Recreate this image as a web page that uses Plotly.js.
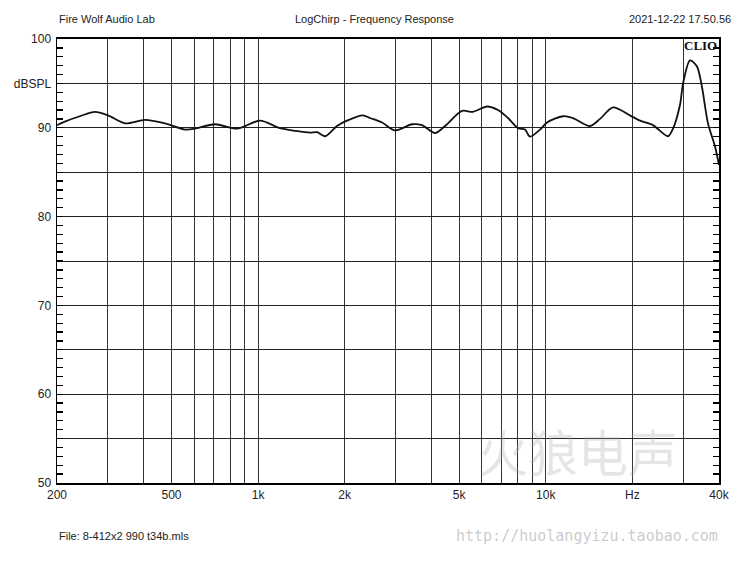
<!DOCTYPE html>
<html>
<head>
<meta charset="utf-8">
<script src="https://cdn.plot.ly/plotly-3.0.1.min.js"></script>
<style>html,body{margin:0;padding:0;background:#fff;}#chart{width:750px;height:562px;}</style>
</head>
<body>
<div id="chart"></div>
<script>
// Frequency response data (Hz, dBSPL)
var freq = [200, 213, 240, 271, 301, 345, 405, 475, 557, 603, 708, 845, 1016, 1192, 1350, 1515, 1602, 1709, 1880, 2037, 2315, 2449, 2697, 2991, 3427, 3713, 4120, 4464, 5114, 5584, 6246, 6822, 7390, 8008, 8468, 8814, 9548, 10098, 11480, 12432, 14246, 15434, 17124, 19619, 21260, 23580, 26600, 27680, 29280, 30000, 31720, 33540, 34900, 36620, 38740, 40000];
var spl  = [90.3, 90.7, 91.3, 91.8, 91.4, 90.5, 90.9, 90.5, 89.8, 89.9, 90.4, 89.9, 90.8, 89.95, 89.65, 89.45, 89.5, 89.05, 90.2, 90.8, 91.4, 91.1, 90.6, 89.7, 90.4, 90.3, 89.4, 90.2, 91.9, 91.8, 92.4, 92.0, 91.1, 89.95, 89.8, 89.0, 89.8, 90.6, 91.3, 91.1, 90.2, 91.0, 92.3, 91.4, 90.8, 90.3, 89.05, 89.9, 92.6, 95.0, 97.6, 96.9, 94.6, 90.5, 87.9, 85.8];

var xGrid = [200, 300, 400, 500, 600, 700, 800, 900, 1000, 2000, 3000, 4000, 5000, 6000, 7000, 8000, 9000, 10000, 20000, 30000, 40000];
var xLabels = ["200", "", "", "500", "", "", "", "", "1k", "2k", "", "", "5k", "", "", "", "", "10k", "Hz", "", "40k"];
var yGrid = [50, 55, 60, 65, 70, 75, 80, 85, 90, 95, 100];
var yLabels = ["50", "", "60", "", "70", "", "80", "", "90", "dBSPL", "100"];
var yMinor = [];
for (var v = 51; v < 100; v++) { if (v % 5 !== 0) yMinor.push(v); }

var trace = {
  x: freq, y: spl, type: 'scatter', mode: 'lines',
  line: {color: '#111111', width: 1.8, shape: 'spline', smoothing: 0.8},
  hoverinfo: 'skip'
};

var baseFont = {family: 'Liberation Sans, Arial, sans-serif', size: 11, color: '#222'};

var layout = {
  width: 750, height: 562,
  margin: {l: 57, r: 31, t: 39, b: 79},
  paper_bgcolor: '#ffffff', plot_bgcolor: '#ffffff',
  showlegend: false,
  font: baseFont,
  xaxis: {
    type: 'log', range: [Math.log10(200), Math.log10(40000)],
    tickmode: 'array', tickvals: xGrid, ticktext: xLabels,
    showgrid: true, gridcolor: '#333333', gridwidth: 1,
    showline: true, linecolor: '#000', linewidth: 2, mirror: true,
    ticks: '', tickfont: {family: 'Liberation Sans, Arial, sans-serif', size: 12, color: '#222'},
    zeroline: false, fixedrange: true
  },
  yaxis: {
    range: [50, 100],
    tickmode: 'array', tickvals: yGrid, ticktext: yLabels,
    showgrid: true, gridcolor: '#222222', gridwidth: 1,
    showline: true, linecolor: '#000', linewidth: 1.5, mirror: 'allticks',
    ticks: 'inside', ticklen: 6, tickcolor: '#000', tickwidth: 1.3, ticklabelstandoff: 2,
    tickfont: {family: 'Liberation Sans, Arial, sans-serif', size: 12, color: '#222'},
    minor: {tickmode: 'array', tickvals: yMinor, ticks: 'inside', ticklen: 6, tickcolor: '#000', tickwidth: 1.3, showgrid: false},
    zeroline: false, fixedrange: true
  },
  annotations: [
    {text: 'Fire Wolf Audio Lab', xref: 'paper', yref: 'paper', x: 0, y: 1.045, xanchor: 'left', yanchor: 'middle', showarrow: false, font: baseFont},
    {text: 'LogChirp - Frequency Response', xref: 'paper', yref: 'paper', x: 0.480, y: 1.045, xanchor: 'center', yanchor: 'middle', showarrow: false, font: baseFont},
    {text: '2021-12-22 17.50.56', xref: 'paper', yref: 'paper', x: 1.021, y: 1.045, xanchor: 'right', yanchor: 'middle', showarrow: false, font: baseFont},
    {text: '<b>CLIO</b>', xref: 'paper', yref: 'paper', x: 1.0, y: 0.986, xanchor: 'right', yanchor: 'middle', showarrow: false, font: {family: 'Liberation Serif, Times New Roman, serif', size: 13, color: '#111'}},
    {text: 'File: 8-412x2 990 t34b.mls', xref: 'paper', yref: 'paper', x: 0, y: -0.119, xanchor: 'left', yanchor: 'middle', showarrow: false, font: baseFont},
    {text: '火狼电声', xref: 'paper', yref: 'paper', x: 0.787, y: 0.075, xanchor: 'center', yanchor: 'middle', showarrow: false, font: {family: 'Noto Sans CJK SC, sans-serif', size: 50, color: 'rgba(170,170,170,0.30)'}},
    {text: 'http://huolangyizu.taobao.com', xref: 'paper', yref: 'paper', x: 0.80, y: -0.119, xanchor: 'center', yanchor: 'middle', showarrow: false, font: {family: 'DejaVu Sans Mono, monospace', size: 15, color: 'rgba(160,160,160,0.55)'}}
  ]
};

Plotly.newPlot('chart', [trace], layout, {staticPlot: true, displayModeBar: false});
</script>
</body>
</html>
